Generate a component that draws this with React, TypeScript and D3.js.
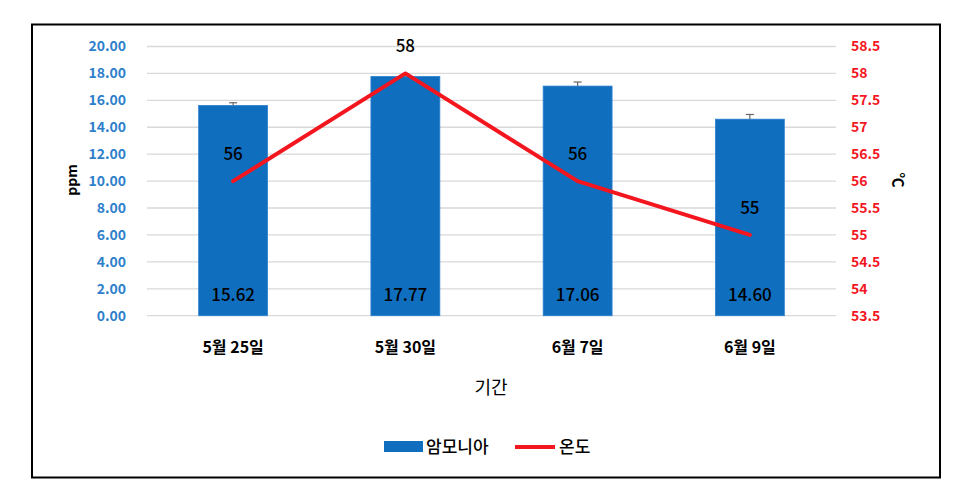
import React from "react";
import * as d3 from "d3";

const categories = ["5월 25일", "5월 30일", "6월 7일", "6월 9일"];
const ammonia = [15.62, 17.77, 17.06, 14.6];
const ammoniaErr = [0.2, 0.1, 0.3, 0.35];
const temperature = [56, 58, 56, 55];
const leftTicks = [0, 2, 4, 6, 8, 10, 12, 14, 16, 18, 20];
const rightTicks = [53.5, 54, 54.5, 55, 55.5, 56, 56.5, 57, 57.5, 58, 58.5];

const W = 963, H = 484;
const plot = { left: 147, right: 836, top: 46.5, bottom: 315.7 };
const font = "'Noto Sans CJK KR', 'Noto Sans', sans-serif";
const barColor = "#106ebe";
const lineColor = "#f4161f";
const leftColor = "#2e7fcb";
const rightColor = "#f4161f";

export default function App() {
  const x = d3.scaleBand<string>().domain(categories).range([plot.left, plot.right]).paddingInner(0.6).paddingOuter(0.3);
  const yL = d3.scaleLinear().domain([0, 20]).range([plot.bottom, plot.top]);
  const yR = d3.scaleLinear().domain([53.5, 58.5]).range([plot.bottom, plot.top]);
  const cx = (c: string) => (x(c) as number) + x.bandwidth() / 2;
  const line = d3.line<number>().x((_, i) => cx(categories[i])).y((d) => yR(d));

  return (
    <svg width={W} height={H} style={{ position: "absolute", left: 0, top: 0 }} fontFamily={font}>
      <rect x={0} y={0} width={W} height={H} fill="#fff" />
      <rect x={32} y={24.5} width={908} height={453} fill="#fff" stroke="#000" strokeWidth={2} />
      {leftTicks.map((t) => (
        <line key={t} x1={plot.left} x2={plot.right} y1={yL(t)} y2={yL(t)} stroke="#d9d9d9" strokeWidth={1.3} />
      ))}
      {leftTicks.map((t) => (
        <text key={"l" + t} x={126} y={yL(t)} dy="0.35em" textAnchor="end" fontSize={14} fontWeight="bold" fill={leftColor}>
          {t.toFixed(2)}
        </text>
      ))}
      {rightTicks.map((t) => (
        <text key={"r" + t} x={851} y={yR(t)} dy="0.35em" textAnchor="start" fontSize={14} fontWeight="bold" fill={rightColor}>
          {String(t)}
        </text>
      ))}
      {categories.map((c, i) => (
        <g key={c}>
          <rect x={x(c)} y={yL(ammonia[i])} width={x.bandwidth()} height={plot.bottom - yL(ammonia[i])} fill={barColor} stroke="#2b7fd0" strokeWidth={0.8} />
          <line x1={cx(c)} x2={cx(c)} y1={yL(ammonia[i])} y2={yL(ammonia[i] + ammoniaErr[i])} stroke="#666" strokeWidth={1.2} />
          <line x1={cx(c) - 4} x2={cx(c) + 4} y1={yL(ammonia[i] + ammoniaErr[i])} y2={yL(ammonia[i] + ammoniaErr[i])} stroke="#666" strokeWidth={1.2} />
          <text x={cx(c)} y={yL(1.5)} dy="0.35em" textAnchor="middle" fontSize={17} fontWeight={500} fill="#000">
            {ammonia[i].toFixed(2)}
          </text>
          <text x={cx(c)} y={347} dy="0.35em" textAnchor="middle" fontSize={16} fontWeight="bold" fill="#000">
            {c}
          </text>
        </g>
      ))}
      <path d={line(temperature) as string} fill="none" stroke={lineColor} strokeWidth={4} strokeLinejoin="round" strokeLinecap="round" />
      {categories.map((c, i) => (
        <text key={"t" + c} x={cx(c)} y={yR(temperature[i]) - 27} dy="0.35em" textAnchor="middle" fontSize={17} fontWeight={500} fill="#000">
          {temperature[i]}
        </text>
      ))}
      <text transform={`translate(72,180) rotate(-90)`} textAnchor="middle" dy="0.35em" fontSize={14} fontWeight="bold" fill="#000">ppm</text>
      <text transform={`translate(898,180) rotate(90)`} textAnchor="middle" dy="0.35em" fontSize={15} fontWeight="bold" fill="#000">℃</text>
      <text x={491} y={388} textAnchor="middle" dy="0.35em" fontSize={18} fill="#000">기간</text>
      <rect x={384} y={441} width={39} height={11} fill={barColor} />
      <text x={426} y={447} dy="0.35em" fontSize={17} fontWeight={500} fill="#000">암모니아</text>
      <line x1={515} x2={555} y1={447} y2={447} stroke={lineColor} strokeWidth={4} />
      <text x={559} y={447} dy="0.35em" fontSize={17} fontWeight={500} fill="#000">온도</text>
    </svg>
  );
}
